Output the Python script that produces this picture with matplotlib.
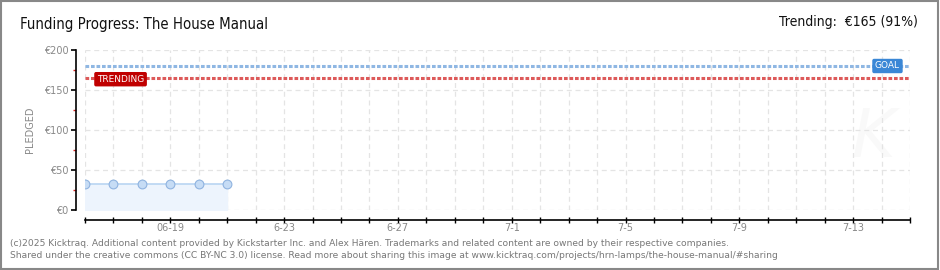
import numpy as np
import matplotlib
matplotlib.use("Agg")
import matplotlib.pyplot as plt
import matplotlib.dates as mdates
from matplotlib.ticker import MultipleLocator

# Data
dates = np.array(["2025-06-16", "2025-06-17", "2025-06-18", "2025-06-19",
                  "2025-06-20", "2025-06-21"], dtype="datetime64[D]")
pledged = [32, 32, 32, 32, 32, 32]
goal = 180
trending = 165
trending_pct = 91
x_start = np.datetime64("2025-06-16")
x_end = np.datetime64("2025-07-15")
label_days = ["2025-06-19", "2025-06-23", "2025-06-27", "2025-07-01",
              "2025-07-05", "2025-07-09", "2025-07-13"]
label_text = ["06-19", "6-23", "6-27", "7-1", "7-5", "7-9", "7-13"]
y_ticks = [0, 50, 100, 150, 200]

fig = plt.figure(figsize=(9.4, 2.7), dpi=100)
fig.patch.set_facecolor("white")

# figure border
fig.patches.append(plt.Rectangle((0.001, 0.002), 0.997, 0.995, transform=fig.transFigure,
                                 fill=False, edgecolor="#888888", linewidth=1.5))

ax = fig.add_axes([85 / 940, 1 - 210 / 270, 825 / 940, 160 / 270])
ax.set_xlim(x_start, x_end)
ax.set_ylim(0, 200)

# faint watermark
ax.text(0.955, 0.45, "K", transform=ax.transAxes, fontsize=48, style="italic",
        color="#f9f9f9", ha="center", va="center", zorder=0)

# data
ax.fill_between(dates, pledged, 0, color="#edf4fd", zorder=1)
ax.plot(dates, pledged, color="#b9d5f2", linewidth=1.2, zorder=2)
ax.scatter(dates, pledged, s=40, color="#c6dcf5", edgecolor="#8fb3e0", linewidth=0.8, zorder=3)

# goal and trending lines
ax.axhline(goal, color="#8fb7e3", linewidth=2.2, linestyle=(0, (1.2, 0.6)), zorder=2)
ax.axhline(trending, color="#dd5a5a", linewidth=2.2, linestyle=(0, (1.2, 0.6)), zorder=2)
ax.text(np.datetime64("2025-07-14") + np.timedelta64(5, "h"), goal, "GOAL", color="white",
        fontsize=6.5, ha="center", va="center", zorder=5,
        bbox=dict(boxstyle="round,pad=0.3,rounding_size=0.2", fc="#3a87d6", ec="none"))
ax.text(np.datetime64("2025-06-17") + np.timedelta64(6, "h"), trending - 1.5, "TRENDING",
        color="white", fontsize=6.5, ha="center", va="center", zorder=5,
        bbox=dict(boxstyle="round,pad=0.3,rounding_size=0.2", fc="#c00000", ec="none"))

# spines and ticks
for s in ["top", "right"]:
    ax.spines[s].set_visible(False)
ax.spines["left"].set_position(("outward", 6.5))
ax.spines["bottom"].set_position(("outward", 7))
ax.spines["left"].set_linewidth(1.2)
ax.spines["bottom"].set_linewidth(1.2)

ax.set_yticks(y_ticks)
ax.set_yticklabels([f"€{v}" for v in y_ticks])
ax.yaxis.set_minor_locator(MultipleLocator(25))
ax.tick_params(axis="y", which="major", length=3.5, width=1.2, color="black",
               labelsize=7, labelcolor="#888888", pad=2)
ax.tick_params(axis="y", which="minor", length=2.5, width=1.0, color="#dd2222")

ax.set_xticks([np.datetime64(d) for d in label_days])
ax.set_xticklabels(label_text)
ax.xaxis.set_minor_locator(mdates.DayLocator())
ax.tick_params(axis="x", which="major", direction="inout", length=5, width=1.0,
               labelsize=7, labelcolor="#888888", pad=0)
ax.tick_params(axis="x", which="minor", direction="inout", length=5, width=1.0)

# grid
ax.grid(True, which="major", axis="y", color="#e4e4e4", linestyle=(0, (4, 3)), linewidth=0.9)
ax.grid(True, which="minor", axis="x", color="#e4e4e4", linestyle=(0, (4, 3)), linewidth=0.9)
ax.grid(True, which="major", axis="x", color="#e4e4e4", linestyle=(0, (4, 3)), linewidth=0.9)
ax.set_axisbelow(True)

ax.set_ylabel("PLEDGED", fontsize=7, color="#888888", labelpad=6)

# titles and footer
fig.text(20 / 940, 1 - 24 / 270, "Funding Progress: The House Manual", fontsize=10.7,
         fontstretch="condensed", ha="left", va="center", color="#111111")
fig.text(918 / 940, 1 - 22 / 270, f"Trending:  €{trending} ({trending_pct}%)", fontsize=10,
         fontstretch="condensed", ha="right", va="center", color="#111111")
fig.text(10 / 940, 1 - 243 / 270,
         "(c)2025 Kicktraq. Additional content provided by Kickstarter Inc. and Alex Hären. "
         "Trademarks and related content are owned by their respective companies.",
         fontsize=6.6, color="#777777", ha="left", va="center")
fig.text(10 / 940, 1 - 256 / 270,
         "Shared under the creative commons (CC BY-NC 3.0) license. Read more about sharing "
         "this image at www.kicktraq.com/projects/hrn-lamps/the-house-manual/#sharing",
         fontsize=6.6, color="#777777", ha="left", va="center")

fig.savefig("out.png", dpi=100, facecolor="white")
